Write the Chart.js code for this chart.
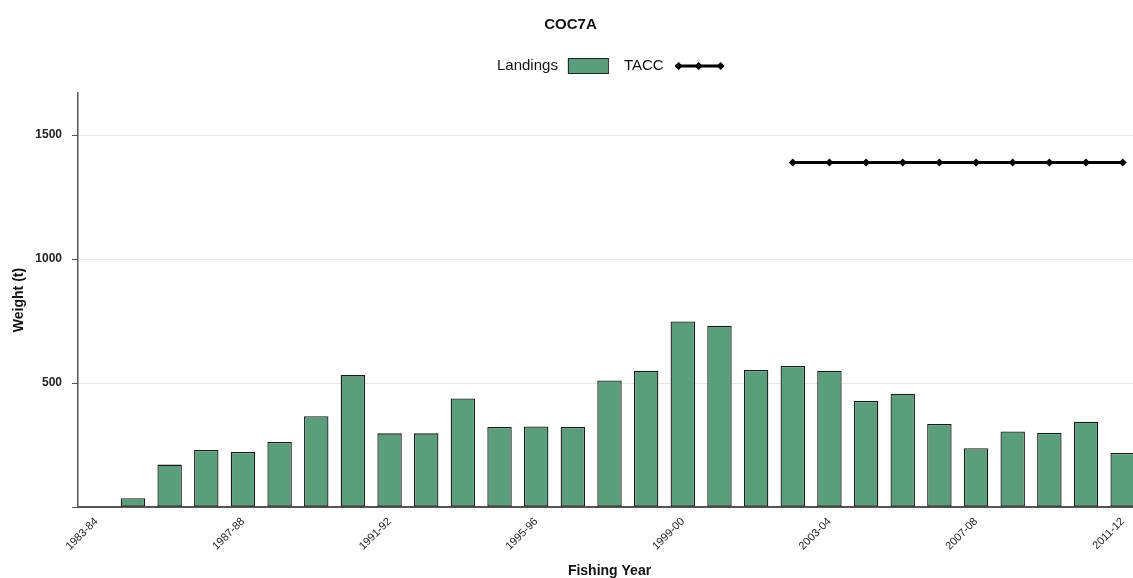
<!DOCTYPE html>
<html>
<head>
<meta charset="utf-8">
<title>COC7A</title>
<script src="https://cdn.jsdelivr.net/npm/chart.js@4"></script>
<style>
  html, body { margin: 0; padding: 0; background: #fff; overflow: hidden; }
  #wrap { width: 1178px; height: 578px; }
</style>
</head>
<body>
<div id="wrap"><canvas id="cocChart" width="1178" height="578"></canvas></div>
<script>
// Données
const YEARS = ["1983-84", "1984-85", "1985-86", "1986-87", "1987-88", "1988-89", "1989-90", "1990-91",
  "1991-92", "1992-93", "1993-94", "1994-95", "1995-96", "1996-97", "1997-98", "1998-99", "1999-00",
  "2000-01", "2001-02", "2002-03", "2003-04", "2004-05", "2005-06", "2006-07", "2007-08", "2008-09",
  "2009-10", "2010-11", "2011-12"];
const LANDINGS = [null, 35, 171, 230, 222, 262, 366, 532, 297, 297, 438, 323, 325, 323, 510, 550, 748,
  731, 553, 569, 550, 428, 457, 335, 237, 305, 299, 344, 218];
const TACC = [null, null, null, null, null, null, null, null, null, null, null, null, null, null, null,
  null, null, null, null, 1390, 1390, 1390, 1390, 1390, 1390, 1390, 1390, 1390, 1390];
const Y_TICKS = [500, 1000, 1500];

const FONT = "'Liberation Sans', Arial, sans-serif";
const GREEN = '#5b9e7c';

// Légende dessinée à la main : texte puis symbole
const inlineLegend = {
  id: 'inlineLegend',
  afterDraw(chart) {
    const ctx = chart.ctx;
    const y = 66;
    ctx.save();
    ctx.font = '15px ' + FONT;
    ctx.fillStyle = '#111';
    ctx.textBaseline = 'middle';
    ctx.textAlign = 'left';

    let x = 497;
    ctx.fillText('Landings', x, y);
    x += ctx.measureText('Landings').width + 10;

    ctx.fillStyle = GREEN;
    ctx.fillRect(x, y - 7.5, 40, 15);
    ctx.strokeStyle = '#222';
    ctx.lineWidth = 1;
    ctx.strokeRect(x + 0.5, y - 7.5, 40, 15);
    x += 40 + 16;

    ctx.fillStyle = '#111';
    ctx.fillText('TACC', x, y);
    x += ctx.measureText('TACC').width + 12;

    ctx.strokeStyle = '#000';
    ctx.lineWidth = 3;
    ctx.beginPath();
    ctx.moveTo(x, y);
    ctx.lineTo(x + 47, y);
    ctx.stroke();
    ctx.fillStyle = '#000';
    [3, 23, 45].forEach(dx => {
      ctx.beginPath();
      ctx.moveTo(x + dx, y - 4);
      ctx.lineTo(x + dx + 4, y);
      ctx.lineTo(x + dx, y + 4);
      ctx.lineTo(x + dx - 4, y);
      ctx.closePath();
      ctx.fill();
    });
    ctx.restore();
  }
};

const ctx = document.getElementById('cocChart').getContext('2d');

new Chart(ctx, {
  data: {
    labels: YEARS,
    datasets: [
      {
        type: 'line',
        label: 'TACC',
        data: TACC,
        borderColor: '#000',
        borderWidth: 3,
        pointStyle: 'rectRot',
        pointRadius: 4,
        pointBackgroundColor: '#000',
        pointBorderColor: '#000',
        pointBorderWidth: 0,
        tension: 0,
        order: 0
      },
      {
        type: 'bar',
        label: 'Landings',
        data: LANDINGS,
        backgroundColor: GREEN,
        borderColor: '#1a1a1a',
        borderWidth: 1.3,
        borderSkipped: false,
        categoryPercentage: 1,
        barPercentage: 0.667,
        order: 1
      }
    ]
  },
  options: {
    responsive: false,
    animation: false,
    layout: { padding: { left: 0, right: 37, top: 0, bottom: 0 } },
    plugins: {
      legend: { display: false },
      tooltip: { enabled: false },
      title: {
        display: true,
        text: 'COC7A',
        color: '#111',
        font: { family: FONT, size: 15, weight: 'bold', lineHeight: 1.2 },
        padding: { top: 16, bottom: 59 }
      }
    },
    scales: {
      x: {
        afterFit: scale => { scale.height = 71; },
        grid: { display: false, drawTicks: false },
        border: { display: true, color: '#555', width: 1.5 },
        ticks: {
          autoSkip: false,
          maxRotation: 45,
          minRotation: 45,
          padding: 8,
          color: '#222',
          font: { family: FONT, size: 11 },
          callback: function (value, index) {
            return index % 4 === 0 ? this.getLabelForValue(value) : '';
          }
        },
        title: {
          display: true,
          text: 'Fishing Year',
          color: '#111',
          font: { family: FONT, size: 14, weight: 'bold', lineHeight: 1 },
          padding: { top: 0, bottom: 0 }
        }
      },
      y: {
        min: 0,
        max: 1670,
        afterFit: scale => { scale.width = 78; },
        afterBuildTicks: scale => {
          scale.ticks = [0].concat(Y_TICKS).map(v => ({ value: v }));
        },
        grid: {
          color: c => (c.tick && c.tick.value === 0) ? '#555' : '#e6e6e6',
          tickColor: '#555',
          tickLength: 6,
          lineWidth: 1
        },
        border: { display: true, color: '#555', width: 1.5 },
        ticks: {
          padding: 10,
          color: '#222',
          font: { family: FONT, size: 12, weight: 'bold' },
          callback: v => v === 0 ? '' : v
        },
        title: {
          display: true,
          text: 'Weight (t)',
          color: '#111',
          font: { family: FONT, size: 14, weight: 'bold', lineHeight: 1.2 },
          padding: { top: 11, bottom: 0 }
        }
      }
    }
  },
  plugins: [inlineLegend]
});
</script>
</body>
</html>
